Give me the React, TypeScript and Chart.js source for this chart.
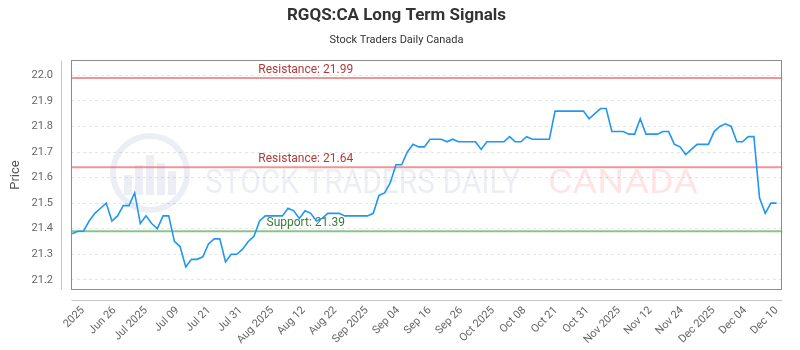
import React, { useEffect, useRef } from "react";
import { Chart, registerables } from "chart.js";

Chart.register(...registerables);

const chartTitle = "RGQS:CA Long Term Signals";
const chartSubtitle = "Stock Traders Daily Canada";
const yAxisTitle = "Price";
const watermarkMain = "STOCK TRADERS DAILY";
const watermarkRegion = "CANADA";

// daily closing prices (trading-day index 0..124)
const prices: number[] = [
  21.38, 21.39, 21.39, 21.43, 21.46, 21.48, 21.5, 21.43, 21.45, 21.49,
  21.49, 21.54, 21.42, 21.45, 21.42, 21.4, 21.45, 21.45, 21.35, 21.33,
  21.25, 21.28, 21.28, 21.29, 21.34, 21.36, 21.36, 21.27, 21.3, 21.3,
  21.32, 21.35, 21.37, 21.43, 21.45, 21.45, 21.45, 21.45, 21.48, 21.47,
  21.44, 21.47, 21.46, 21.43, 21.44, 21.46, 21.46, 21.46, 21.45, 21.45,
  21.45, 21.45, 21.45, 21.46, 21.53, 21.54, 21.58, 21.65, 21.65, 21.7,
  21.73, 21.72, 21.72, 21.75, 21.75, 21.75, 21.74, 21.75, 21.74, 21.74,
  21.74, 21.74, 21.71, 21.74, 21.74, 21.74, 21.74, 21.76, 21.74, 21.74,
  21.76, 21.75, 21.75, 21.75, 21.75, 21.86, 21.86, 21.86, 21.86, 21.86,
  21.86, 21.83, 21.85, 21.87, 21.87, 21.78, 21.78, 21.78, 21.77, 21.77,
  21.83, 21.77, 21.77, 21.77, 21.78, 21.78, 21.73, 21.72, 21.69, 21.71,
  21.73, 21.73, 21.73, 21.78, 21.8, 21.81, 21.8, 21.74, 21.74, 21.76,
  21.76, 21.52, 21.46, 21.5, 21.5,
];

const xTickLabels: string[] = [
  "2025", "Jun 26", "Jul 2025", "Jul 09", "Jul 21", "Jul 31", "Aug 2025",
  "Aug 12", "Aug 22", "Sep 2025", "Sep 04", "Sep 16", "Sep 26", "Oct 2025",
  "Oct 08", "Oct 21", "Oct 31", "Nov 2025", "Nov 12", "Nov 24", "Dec 2025",
  "Dec 04", "Dec 10",
];
// trading-day index of the first and last labelled tick
const xTickFirstIndex = 1.9;
const xTickLastIndex = 124;

const yTickValues: number[] = [21.2, 21.3, 21.4, 21.5, 21.6, 21.7, 21.8, 21.9, 22.0];

const resistanceLevels: number[] = [21.99, 21.64];
const supportLevels: number[] = [21.39];

function drawWatermark(ctx: CanvasRenderingContext2D, a: any) {
  ctx.save();
  const blue = "rgba(30,60,140,0.085)";
  const red = "rgba(250,40,40,0.12)";
  // logo ring
  const cx = a.left + 79;
  const cy = a.top + 113;
  const r = 37;
  ctx.strokeStyle = blue;
  ctx.lineWidth = 6;
  ctx.beginPath();
  ctx.arc(cx, cy, r, 0, Math.PI * 2);
  ctx.stroke();
  // logo bars
  ctx.fillStyle = blue;
  const bars = [
    [-26, 20],
    [-15, 30],
    [-4, 40],
    [7, 32],
    [18, 24],
  ];
  bars.forEach(([dx, h]) => {
    ctx.fillRect(cx + dx, cy + 22 - h, 8, h);
  });
  // text
  ctx.font = "34px Roboto";
  ctx.textBaseline = "alphabetic";
  ctx.textAlign = "left";
  const drawFit = (text: string, x0: number, x1: number, base: number, color: string) => {
    const w = ctx.measureText(text).width;
    ctx.save();
    ctx.translate(x0, base);
    ctx.scale((x1 - x0) / w, 1);
    ctx.fillStyle = color;
    ctx.fillText(text, 0, 0);
    ctx.restore();
  };
  drawFit(watermarkMain, a.left + 134, a.left + 449, a.top + 133, blue);
  drawFit(watermarkRegion, a.left + 477, a.left + 627, a.top + 133, red);
  ctx.restore();
}

const decorPlugin = {
  id: "decor",
  beforeDatasetsDraw(chart: any) {
    const { ctx, chartArea: a, scales } = chart;
    const ys = scales.y;
    drawWatermark(ctx, a);
    ctx.save();
    const drawLevel = (v: number, name: string, lineColor: string, textColor: string) => {
      const py = ys.getPixelForValue(v);
      ctx.strokeStyle = lineColor;
      ctx.lineWidth = 2;
      ctx.beginPath();
      ctx.moveTo(a.left, py);
      ctx.lineTo(a.right, py);
      ctx.stroke();
      ctx.fillStyle = textColor;
      ctx.font = "12px Roboto";
      ctx.textAlign = "center";
      ctx.textBaseline = "alphabetic";
      ctx.fillText(`${name}: ${v.toFixed(2)}`, a.left + a.width * 0.33, py - 5);
    };
    resistanceLevels.forEach((v) => drawLevel(v, "Resistance", "rgba(225,80,80,0.6)", "#b03a3a"));
    supportLevels.forEach((v) => drawLevel(v, "Support", "rgba(90,170,90,0.7)", "#3b7a3b"));
    ctx.restore();
  },
  afterDraw(chart: any) {
    const { ctx, chartArea: a } = chart;
    ctx.save();
    ctx.lineWidth = 1;
    ctx.strokeStyle = "#8c8c8c";
    const l = Math.round(a.left) + 0.5;
    const t = Math.round(a.top) + 0.5;
    const r = Math.round(a.right) - 0.5;
    const b = Math.round(a.bottom) - 0.5;
    ctx.strokeRect(l, t, r - l, b - t);
    ctx.strokeStyle = "#c4c4c4";
    ctx.beginPath();
    ctx.moveTo(l - 10, t);
    ctx.lineTo(l - 10, b);
    ctx.moveTo(l, b + 11);
    ctx.lineTo(r + 1, b + 11);
    ctx.stroke();
    ctx.restore();
  },
};

export default function App() {
  const canvasRef = useRef<HTMLCanvasElement | null>(null);

  useEffect(() => {
    if (!canvasRef.current) return;
    const chart = new Chart(canvasRef.current, {
      type: "line",
      data: {
        datasets: [
          {
            label: chartTitle,
            data: prices.map((y, i) => ({ x: i, y })),
            borderColor: "#2196f3",
            borderWidth: 1.6,
            pointRadius: 0,
            tension: 0,
            fill: false,
          },
        ],
      },
      options: {
        responsive: false,
        animation: false,
        events: [],
        layout: { padding: { left: 0, right: 7, top: 0, bottom: 0 } },
        plugins: {
          legend: { display: false },
          tooltip: { enabled: false },
          title: {
            display: true,
            text: chartTitle,
            color: "#333",
            font: { family: "Roboto", size: 17, weight: "bold" },
            padding: { top: 6, bottom: 7 },
          },
          subtitle: {
            display: true,
            text: chartSubtitle,
            color: "#333",
            font: { family: "Roboto", size: 11 },
            padding: { top: 0, bottom: 13.4 },
          },
        },
        scales: {
          x: {
            type: "linear",
            min: -0.2,
            max: 125,
            grid: { display: false, drawTicks: false },
            border: { display: false },
            ticks: {
              autoSkip: false,
              minRotation: 45,
              maxRotation: 45,
              color: "#666",
              font: { family: "Roboto", size: 11 },
              padding: 14,
              callback: (_v: any, i: number) => xTickLabels[i],
            },
            afterBuildTicks: (scale: any) => {
              const n = xTickLabels.length;
              const step = (xTickLastIndex - xTickFirstIndex) / (n - 1);
              scale.ticks = xTickLabels.map((_, k) => ({ value: xTickFirstIndex + k * step }));
            },
            afterFit: (scale: any) => {
              scale.height = 60;
            },
          },
          y: {
            min: 21.16,
            max: 22.06,
            grid: { color: "#e4e4e4", drawTicks: false, lineWidth: 1 },
            border: { display: false, dash: [3, 3] },
            ticks: {
              color: "#666",
              font: { family: "Roboto", size: 11 },
              padding: 18,
              callback: (v: any) => Number(v).toFixed(1),
            },
            title: {
              display: true,
              text: yAxisTitle,
              color: "#555",
              font: { family: "Roboto", size: 13 },
              padding: { top: 8, bottom: 0 },
            },
            afterBuildTicks: (scale: any) => {
              scale.ticks = yTickValues.map((v) => ({ value: v }));
            },
            afterFit: (scale: any) => {
              scale.width = 71;
            },
          },
        },
      },
      plugins: [decorPlugin],
    });
    return () => chart.destroy();
  }, []);

  return (
    <div style={{ position: "absolute", left: 0, top: 0, width: 800, height: 350, background: "#fff" }}>
      <canvas ref={canvasRef} width={800} height={350} style={{ display: "block" }} />
    </div>
  );
}
